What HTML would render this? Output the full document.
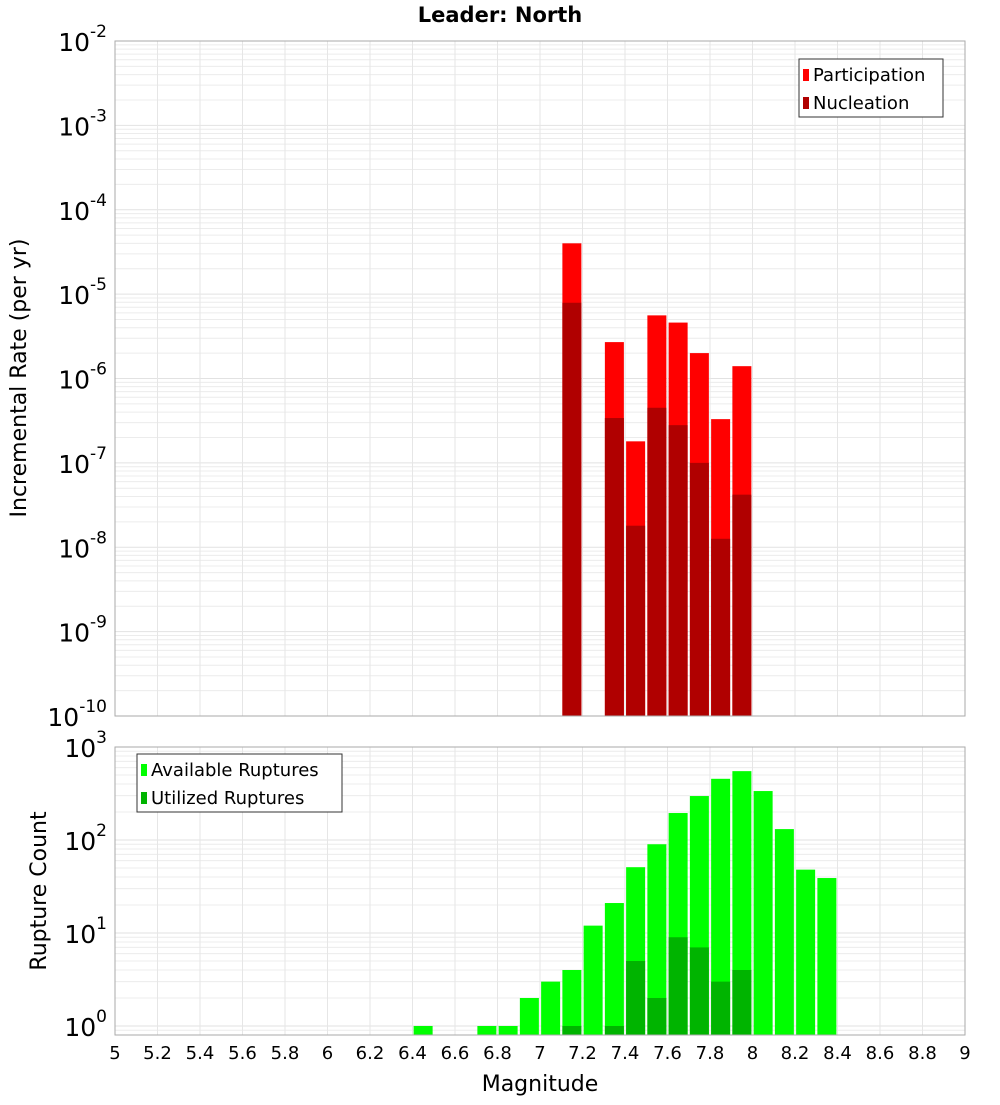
<!DOCTYPE html>
<html><head><meta charset="utf-8"><style>
body{margin:0;background:#fff;}
svg text{font-family:"DejaVu Sans","Liberation Sans",sans-serif;}
</style></head><body>
<svg id="c" width="1000" height="1100" xmlns="http://www.w3.org/2000/svg">
<text x="500" y="22" text-anchor="middle" font-size="21" font-weight="bold">Leader: North</text>
<text transform="translate(26,378) rotate(-90)" text-anchor="middle" font-size="22">Incremental Rate (per yr)</text>
<text transform="translate(46,891) rotate(-90)" text-anchor="middle" font-size="22">Rupture Count</text>
<text x="540" y="1091" text-anchor="middle" font-size="22">Magnitude</text>
<g id="g"></g>
</svg>
<script>
const topMags=[7.15,7.35,7.45,7.55,7.65,7.75,7.85,7.95];
const participation=[4e-5,2.7e-6,1.8e-7,5.6e-6,4.6e-6,2e-6,3.3e-7,1.4e-6];
const nucleation=[7.9e-6,3.4e-7,1.8e-8,4.5e-7,2.8e-7,1e-7,1.26e-8,4.2e-8];
const availMags=[6.45,6.75,6.85,6.95,7.05,7.15,7.25,7.35,7.45,7.55,7.65,7.75,7.85,7.95,8.05,8.15,8.25,8.35];
const available=[1,1,1,2,3,4,12,21,51,90,195,297,455,550,336,131,48,39];
const utilMags=[7.15,7.35,7.45,7.55,7.65,7.75,7.85,7.95];
const utilized=[1,1,5,2,9,7,3,4];
const xTicks=["5","5.2","5.4","5.6","5.8","6","6.2","6.4","6.6","6.8","7","7.2","7.4","7.6","7.8","8","8.2","8.4","8.6","8.8","9"];
const topExp=[-2,-3,-4,-5,-6,-7,-8,-9,-10];
const botExp=[3,2,1,0];

const NS="http://www.w3.org/2000/svg";
const g=document.getElementById('g');
function el(t,a,p){const e=document.createElementNS(NS,t);for(const k in a)e.setAttribute(k,a[k]);(p||g).appendChild(e);return e;}
const X0=115,X1=965;
const x=m=>X0+(m-5)/4*(X1-X0);
const T0=41,T1=716, yT=v=>T0+(-2-Math.log10(v))/8*(T1-T0);
const B0=747,B1=1035, LB=Math.log10(0.8),HB=3;
const yB=v=>B1-(Math.log10(v)-LB)/(HB-LB)*(B1-B0);

function grid(yTop,yBot,yf,lo,hi,name){
  for(let d=lo;d<hi;d++)for(let k=1;k<10;k++){const v=k*Math.pow(10,d);const yy=yf(v);if(yy<yTop-0.5||yy>yBot+0.5)continue;
    const l=el('line',{x1:X0,x2:X1,y1:yy,y2:yy,stroke:k==1?'#e2e2e2':'#ececec','stroke-width':1});
    }
  xTicks.forEach(t=>{const xx=x(+t);const l=el('line',{x1:xx,x2:xx,y1:yTop,y2:yBot,stroke:'#e6e6e6'});
    });
}
grid(T0,T1,yT,-10,-1,'top');
grid(B0,B1,yB,-1,3,'bottom');

function bars(mags,vals,yf,base,color,name){
  mags.forEach((m,i)=>{const yy=yf(vals[i]);
    const r=el('rect',{x:x(m)-9.5,y:yy,width:19,height:base-yy,fill:color});
    });
}
bars(topMags,participation,yT,T1,'#ff0000','participation');
bars(topMags,nucleation,yT,T1,'#b00000','nucleation');
bars(availMags,available,yB,B1,'#00ff00','available');
bars(utilMags,utilized,yB,B1,'#00b400','utilized');

[[T0,T1],[B0,B1]].forEach(([a,b],i)=>{const r=el('rect',{x:X0,y:a,width:X1-X0,height:b-a,fill:'none',stroke:'#aaa'});
  });

function ylab(exp,yy,name){const t=el('text',{x:107,y:yy+10,'text-anchor':'end','font-size':25});
  
  t.textContent='10';const s=el('tspan',{dy:-14,'font-size':17},t);s.textContent=String(exp);}
topExp.forEach(e=>ylab(e,yT(Math.pow(10,e)),'top-y-tick-label'));
botExp.forEach(e=>ylab(e,yB(Math.pow(10,e)),'bottom-y-tick-label'));
xTicks.forEach(t=>{const e=el('text',{x:x(+t),y:1059,'text-anchor':'middle','font-size':18});
  e.textContent=t;});

function legend(lx,ly,w,items,name){const r=el('rect',{x:lx,y:ly,width:w,height:58,fill:'#fff',stroke:'#333'});
  
  items.forEach((it,i)=>{const s=el('rect',{x:lx+4,y:ly+10+i*28,width:6,height:12,fill:it[1]});
    
    const t=el('text',{x:lx+14,y:ly+22+i*28,'font-size':18});t.textContent=it[0];});}
legend(799,59,144,[['Participation','#ff0000'],['Nucleation','#b00000']],'top-legend');
legend(137,754,205,[['Available Ruptures','#00ff00'],['Utilized Ruptures','#00b400']],'bottom-legend');
</script>
</body></html>
